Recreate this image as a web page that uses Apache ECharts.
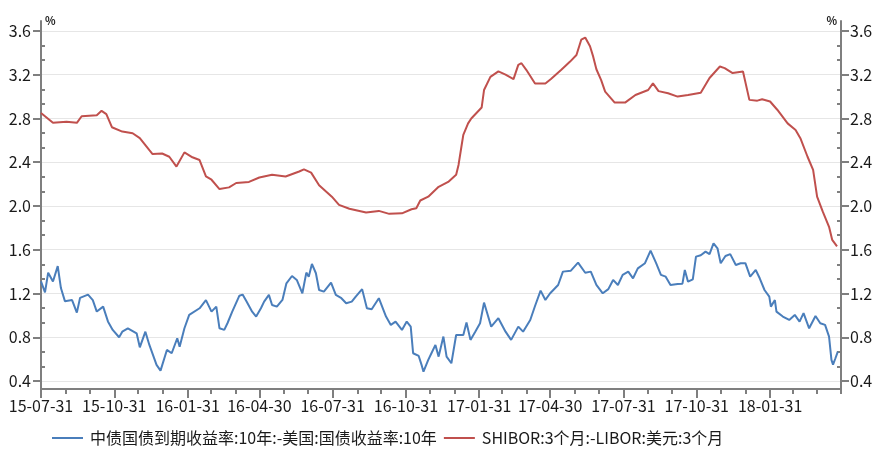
<!DOCTYPE html>
<html><head><meta charset="utf-8">
<script src="https://cdn.jsdelivr.net/npm/echarts@6/dist/echarts.min.js"></script>
<style>html,body{margin:0;padding:0;background:#fff}#c{width:884px;height:465px}</style>
</head><body><div id="c"></div>
<script>
const seriesNames = ['中债国债到期收益率:10年:-美国:国债收益率:10年', 'SHIBOR:3个月:-LIBOR:美元:3个月'];

const blueDates = ['2015-07-31','2015-08-05','2015-08-09','2015-08-15','2015-08-21','2015-08-25','2015-08-30','2015-09-08','2015-09-14','2015-09-18','2015-09-28','2015-10-04','2015-10-09','2015-10-17','2015-10-23','2015-10-29','2015-11-06','2015-11-10','2015-11-17','2015-11-28','2015-12-02','2015-12-09','2015-12-14','2015-12-23','2015-12-28','2016-01-05','2016-01-11','2016-01-18','2016-01-21','2016-01-27','2016-02-02','2016-02-15','2016-02-23','2016-03-01','2016-03-07','2016-03-11','2016-03-17','2016-03-21','2016-03-27','2016-04-05','2016-04-09','2016-04-14','2016-04-21','2016-04-26','2016-05-02','2016-05-06','2016-05-12','2016-05-16','2016-05-22','2016-05-29','2016-06-03','2016-06-10','2016-06-16','2016-06-23','2016-06-28','2016-07-01','2016-07-05','2016-07-10','2016-07-14','2016-07-20','2016-07-29','2016-08-04','2016-08-11','2016-08-17','2016-08-24','2016-08-29','2016-09-06','2016-09-12','2016-09-18','2016-09-27','2016-10-06','2016-10-12','2016-10-18','2016-10-26','2016-11-01','2016-11-06','2016-11-09','2016-11-16','2016-11-20','2016-11-22','2016-11-28','2016-12-02','2016-12-07','2016-12-11','2016-12-17','2016-12-21','2016-12-27','2017-01-02','2017-01-11','2017-01-15','2017-01-20','2017-01-26','2017-02-01','2017-02-06','2017-02-10','2017-02-15','2017-02-24','2017-03-05','2017-03-12','2017-03-21','2017-03-27','2017-04-05','2017-04-11','2017-04-18','2017-04-24','2017-04-30','2017-05-10','2017-05-16','2017-05-26','2017-06-04','2017-06-13','2017-06-20','2017-06-27','2017-07-05','2017-07-12','2017-07-18','2017-07-24','2017-07-30','2017-08-06','2017-08-12','2017-08-18','2017-08-27','2017-09-03','2017-09-10','2017-09-16','2017-09-22','2017-09-28','2017-10-07','2017-10-13','2017-10-16','2017-10-20','2017-10-26','2017-10-30','2017-11-05','2017-11-11','2017-11-16','2017-11-21','2017-11-26','2017-11-30','2017-12-06','2017-12-12','2017-12-19','2017-12-25','2017-12-31','2018-01-06','2018-01-13','2018-01-18','2018-01-24','2018-01-30','2018-02-01','2018-02-06','2018-02-08','2018-02-16','2018-02-24','2018-03-03','2018-03-09','2018-03-14','2018-03-21','2018-03-29','2018-04-04','2018-04-10','2018-04-15','2018-04-18','2018-04-20','2018-04-23','2018-04-26'];
const blueValues = [1.31,1.21,1.39,1.31,1.45,1.25,1.13,1.14,1.025,1.16,1.19,1.14,1.035,1.08,0.945,0.867,0.80,0.851,0.882,0.836,0.708,0.851,0.73,0.547,0.495,0.684,0.654,0.791,0.714,0.882,1.004,1.065,1.14,1.034,1.08,0.882,0.867,0.928,1.034,1.18,1.19,1.126,1.034,0.989,1.065,1.126,1.187,1.095,1.08,1.141,1.293,1.36,1.324,1.202,1.391,1.354,1.47,1.385,1.232,1.217,1.30,1.187,1.157,1.111,1.126,1.172,1.24,1.065,1.056,1.157,0.989,0.913,0.943,0.867,0.943,0.897,0.654,0.629,0.538,0.486,0.593,0.654,0.73,0.623,0.806,0.623,0.562,0.821,0.821,0.934,0.776,0.851,0.928,1.117,1.02,0.897,0.974,0.851,0.776,0.897,0.851,0.958,1.086,1.226,1.141,1.202,1.278,1.40,1.409,1.482,1.39,1.40,1.278,1.202,1.24,1.324,1.278,1.37,1.40,1.339,1.43,1.477,1.592,1.477,1.37,1.354,1.278,1.287,1.29,1.415,1.308,1.33,1.537,1.55,1.583,1.56,1.659,1.613,1.477,1.543,1.56,1.461,1.477,1.477,1.354,1.415,1.339,1.232,1.171,1.08,1.14,1.034,0.989,0.958,1.004,0.943,1.02,0.882,0.995,0.928,0.913,0.806,0.593,0.55,0.608,0.669];

const redDates = ['2015-07-31','2015-08-15','2015-09-01','2015-09-14','2015-09-20','2015-10-09','2015-10-15','2015-10-21','2015-10-28','2015-11-10','2015-11-23','2015-12-02','2015-12-14','2015-12-18','2015-12-30','2016-01-08','2016-01-17','2016-01-27','2016-02-06','2016-02-15','2016-02-23','2016-03-01','2016-03-11','2016-03-23','2016-04-01','2016-04-17','2016-04-30','2016-05-16','2016-06-02','2016-06-19','2016-06-25','2016-07-04','2016-07-14','2016-07-30','2016-08-08','2016-08-21','2016-09-11','2016-09-27','2016-10-10','2016-10-26','2016-11-07','2016-11-13','2016-11-18','2016-11-28','2016-12-11','2016-12-23','2017-01-02','2017-01-05','2017-01-09','2017-01-11','2017-01-17','2017-01-21','2017-02-03','2017-02-06','2017-02-14','2017-02-24','2017-03-05','2017-03-15','2017-03-21','2017-03-25','2017-03-31','2017-04-11','2017-04-24','2017-05-01','2017-05-14','2017-05-25','2017-06-02','2017-06-08','2017-06-13','2017-06-19','2017-06-23','2017-06-27','2017-07-03','2017-07-08','2017-07-20','2017-08-02','2017-08-15','2017-08-31','2017-09-06','2017-09-13','2017-09-25','2017-10-07','2017-10-20','2017-11-05','2017-11-16','2017-11-29','2017-12-05','2017-12-15','2017-12-28','2018-01-05','2018-01-15','2018-01-21','2018-01-31','2018-02-09','2018-02-22','2018-03-04','2018-03-10','2018-03-19','2018-03-26','2018-03-31','2018-04-07','2018-04-15','2018-04-19','2018-04-25'];
const redValues = [2.85,2.76,2.77,2.76,2.82,2.83,2.87,2.84,2.72,2.68,2.665,2.62,2.51,2.475,2.48,2.45,2.36,2.49,2.445,2.42,2.27,2.24,2.155,2.17,2.21,2.22,2.26,2.285,2.27,2.315,2.335,2.305,2.19,2.085,2.01,1.975,1.94,1.955,1.928,1.933,1.97,1.98,2.05,2.085,2.175,2.22,2.285,2.375,2.56,2.65,2.755,2.80,2.90,3.06,3.18,3.23,3.20,3.16,3.29,3.305,3.245,3.12,3.12,3.16,3.245,3.32,3.38,3.52,3.54,3.46,3.365,3.25,3.15,3.045,2.945,2.945,3.015,3.06,3.12,3.05,3.03,3.00,3.015,3.035,3.17,3.275,3.26,3.215,3.23,2.97,2.963,2.975,2.955,2.88,2.755,2.695,2.62,2.45,2.33,2.085,1.95,1.81,1.69,1.63];

const yTickValues = [0.4, 0.8, 1.2, 1.6, 2.0, 2.4, 2.8, 3.2, 3.6];
const xLabelDates = ['2015-07-31','2015-10-31','2016-01-31','2016-04-30','2016-07-31','2016-10-31','2017-01-31','2017-04-30','2017-07-31','2017-10-31','2018-01-31'];
const xStart = '2015-07-31', xEnd = '2018-04-30';

function ts(s) { const p = s.split('-').map(Number); return new Date(p[0], p[1] - 1, p[2]).getTime(); }
function fmt(v) { const d = new Date(v); const p = n => String(n).padStart(2, '0'); return p(d.getFullYear() % 100) + '-' + p(d.getMonth() + 1) + '-' + p(d.getDate()); }

const monthEnds = [];
for (let y = 2015, m = 7; ; m++) { if (m > 12) { m = 1; y++; } const t = new Date(y, m, 0).getTime(); if (t > ts(xEnd)) break; monthEnds.push(t); }
const yMinor = [];
for (let i = 0; i < yTickValues.length - 1; i++) { const a = yTickValues[i], b = yTickValues[i + 1]; yMinor.push(a + (b - a) / 3, a + 2 * (b - a) / 3); }

const AX = '#7f7f7f';
const FONT = '"Noto Sans CJK SC", "Noto Sans", sans-serif';
const yBase = { type: 'value', min: 0.327, max: 3.691 };
const majorY = (pos) => Object.assign({}, yBase, {
  position: pos,
  name: '%', nameLocation: 'end', nameGap: 0,
  nameTextStyle: { fontSize: 11, fontWeight: 'bold', color: '#222', fontFamily: FONT, verticalAlign: 'middle', align: pos === 'left' ? 'left' : 'right', padding: pos === 'left' ? [0, 0, 0, 4] : [0, 4, 0, 0] },
  axisLine: { show: true, lineStyle: { color: AX, width: 2 } },
  axisTick: { show: true, customValues: yTickValues, length: 8, lineStyle: { color: AX, width: 2 } },
  axisLabel: { customValues: yTickValues, formatter: v => Number(v).toFixed(1), color: '#1a1a1a', fontSize: 16, fontFamily: FONT, margin: pos === 'left' ? 10 : 9 },
  splitLine: { show: pos === 'left', lineStyle: { color: '#e6e6e6', width: 1 } }
});
const minorY = (pos) => Object.assign({}, yBase, {
  position: pos,
  axisLine: { show: false },
  axisTick: { show: true, inside: true, customValues: yMinor, length: 4, lineStyle: { color: AX, width: 2 } },
  axisLabel: { show: false },
  splitLine: { show: false }
});

const chart = echarts.init(document.getElementById('c'), null, { renderer: 'canvas' });
chart.setOption({
  animation: false,
  backgroundColor: '#fff',
  grid: { left: 41, right: 43, top: 21, bottom: 76, containLabel: false },
  xAxis: [
    {
      type: 'value', min: ts(xStart), max: ts(xEnd), position: 'bottom',
      axisLine: { show: true, lineStyle: { color: AX, width: 2 } },
      axisTick: { show: true, customValues: xLabelDates.map(ts), length: 9, lineStyle: { color: AX, width: 2 } },
      axisLabel: { customValues: xLabelDates.map(ts), formatter: v => fmt(v), color: '#1a1a1a', fontSize: 16, fontFamily: FONT, margin: 9, hideOverlap: false },
      splitLine: { show: false }
    },
    {
      type: 'value', min: ts(xStart), max: ts(xEnd), position: 'bottom',
      axisLine: { show: false },
      axisTick: { show: true, customValues: monthEnds, length: 5, lineStyle: { color: AX, width: 2 } },
      axisLabel: { show: false },
      splitLine: { show: false }
    }
  ],
  yAxis: [majorY('left'), minorY('left'), majorY('right'), minorY('right')],
  legend: {
    left: 52, top: 430, padding: 0, itemWidth: 31, itemHeight: 2, itemGap: 7, icon: 'rect',
    textStyle: { fontSize: 16, color: '#1a1a1a', fontFamily: FONT, padding: [0, 0, 0, 2] },
    data: seriesNames
  },
  series: [
    { name: seriesNames[0], type: 'line', xAxisIndex: 0, yAxisIndex: 0, showSymbol: false, symbol: 'none',
      lineStyle: { color: '#4a7ebb', width: 2 }, itemStyle: { color: '#4a7ebb' },
      data: blueDates.map((d, i) => [ts(d), blueValues[i]]) },
    { name: seriesNames[1], type: 'line', xAxisIndex: 0, yAxisIndex: 0, showSymbol: false, symbol: 'none',
      lineStyle: { color: '#c0504d', width: 2 }, itemStyle: { color: '#c0504d' },
      data: redDates.map((d, i) => [ts(d), redValues[i]]) }
  ]
});
</script></body></html>
